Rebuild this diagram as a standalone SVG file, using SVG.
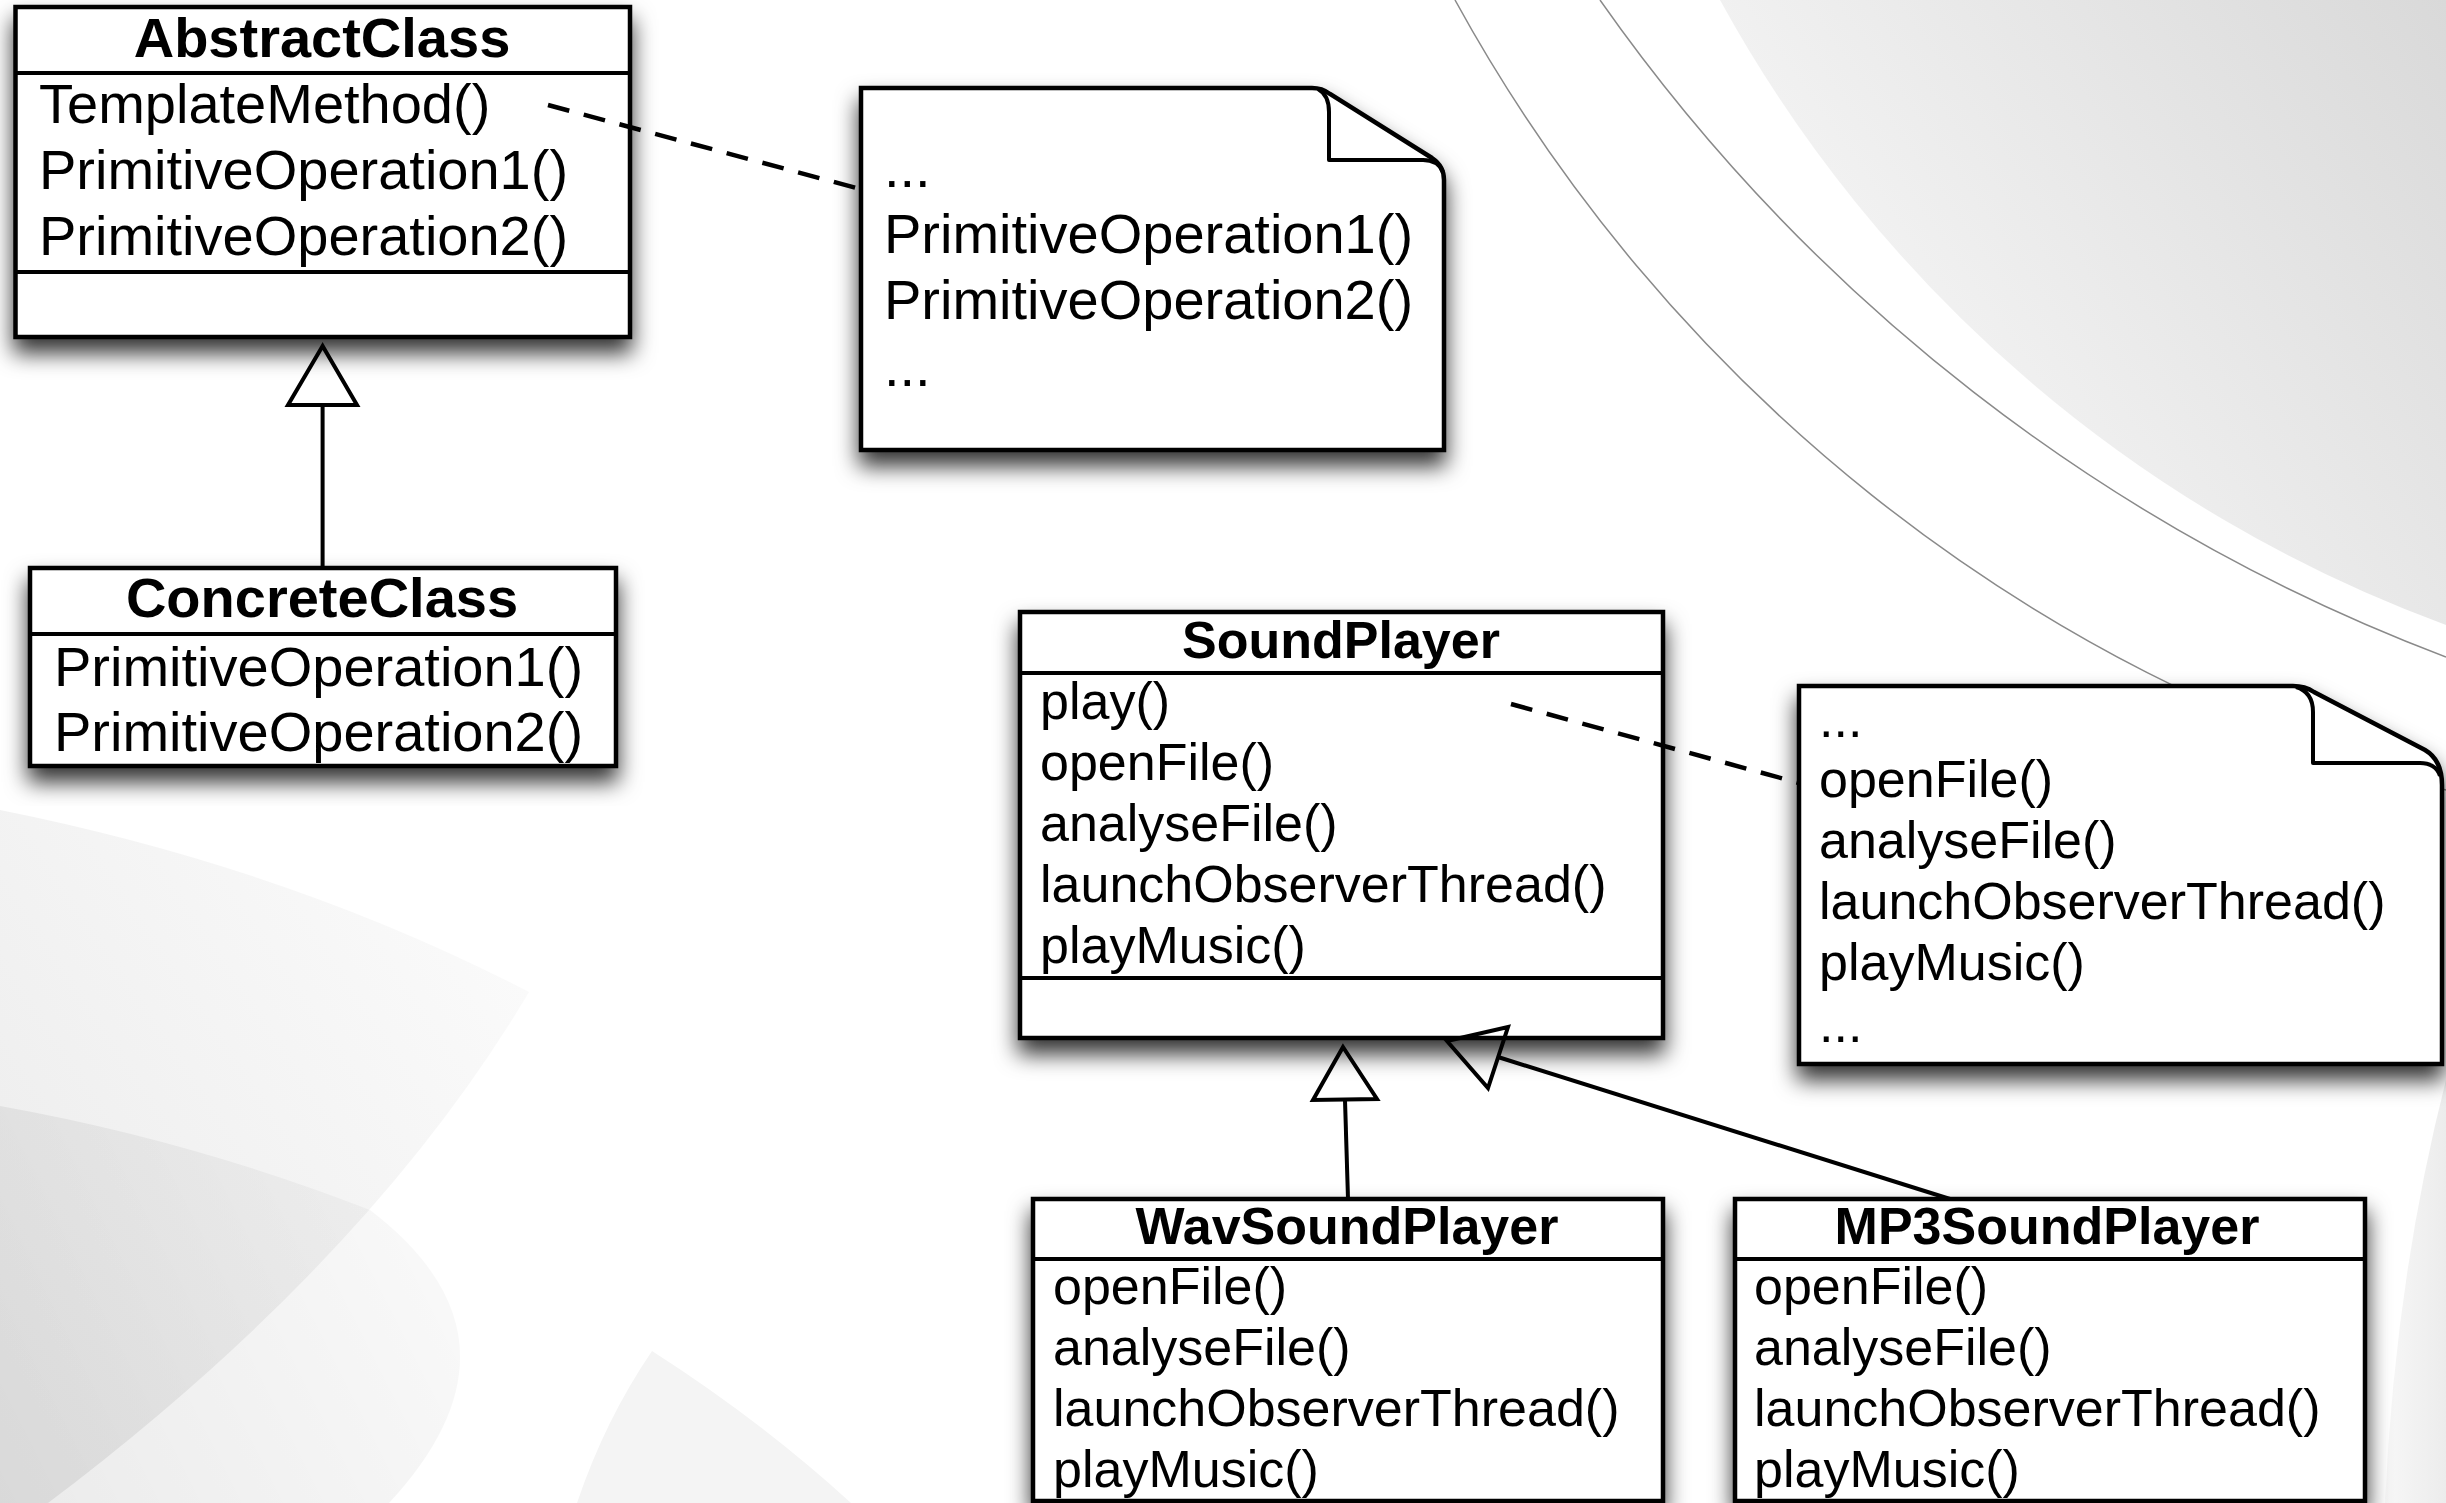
<svg xmlns="http://www.w3.org/2000/svg" width="2446" height="1503" viewBox="0 0 2446 1503">
  <defs>
    <filter id="shadow" x="-10%" y="-10%" width="120%" height="130%">
      <feDropShadow dx="0" dy="14" stdDeviation="11" flood-color="#000" flood-opacity="0.8"/>
    </filter>
    <linearGradient id="swoopTR" gradientUnits="userSpaceOnUse" x1="1850" y1="420" x2="2446" y2="0">
      <stop offset="0" stop-color="#f6f6f6"/>
      <stop offset="1" stop-color="#d9d9d9"/>
    </linearGradient>
    <linearGradient id="swoopBL" gradientUnits="userSpaceOnUse" x1="0" y1="1350" x2="529" y2="990">
      <stop offset="0" stop-color="#ececec"/>
      <stop offset="1" stop-color="#fafafa"/>
    </linearGradient>
    <linearGradient id="swoopBL2" gradientUnits="userSpaceOnUse" x1="0" y1="1503" x2="500" y2="1250">
      <stop offset="0" stop-color="#000" stop-opacity="0.08"/>
      <stop offset="1" stop-color="#000" stop-opacity="0.02"/>
    </linearGradient>
    <linearGradient id="swoopBR" gradientUnits="userSpaceOnUse" x1="2446" y1="1300" x2="2380" y2="1300">
      <stop offset="0" stop-color="#ececec"/>
      <stop offset="1" stop-color="#f8f8f8"/>
    </linearGradient>
    <style>
      .box { fill: #fff; stroke: #000; stroke-width: 4.5; stroke-linejoin: miter; }
      .sep { stroke: #000; stroke-width: 4; fill: none; }
      .fold { fill: none; stroke: #000; stroke-width: 4; stroke-linejoin: round; }
      .t56 { font-family: "Liberation Sans", Arial, Helvetica, sans-serif; font-size: 56px; fill: #000; }
      .t52 { font-family: "Liberation Sans", Arial, Helvetica, sans-serif; font-size: 52px; fill: #000; }
      .title { font-weight: bold; text-anchor: middle; }
      .link { stroke: #000; stroke-width: 4; fill: none; }
      .dash { stroke: #000; stroke-width: 4.5; fill: none; stroke-dasharray: 22 15; }
      .head { stroke: #000; stroke-width: 4; fill: none; stroke-linejoin: miter; }
      .arc { stroke: #8a8a8a; stroke-width: 1.5; fill: none; }
    </style>
  </defs>

  <!-- backdrop -->
  <rect x="0" y="0" width="2446" height="1503" fill="#fff"/>
  <g id="backdrop">
    <path d="M1720,0 A1364,1364 0 0 0 2446,625 L2446,0 Z" fill="url(#swoopTR)"/>
    <path class="arc" d="M1600,0 A1821,1821 0 0 0 2446,657"/>
    <path class="arc" d="M1455,0 A1640,1640 0 0 0 2446,790"/>
    <path d="M0,810 Q290,868 529,992 Q370,1260 48,1503 L0,1503 Z" fill="url(#swoopBL)"/>
    <path d="M0,1106 Q190,1140 370,1210 Q540,1340 389,1503 L0,1503 Z" fill="url(#swoopBL2)"/>
    <path d="M652,1351 Q760,1420 851,1503 L577,1503 Q605,1420 652,1351 Z" fill="#f4f4f4"/>
    <path d="M2446,1080 Q2395,1280 2385,1503 L2446,1503 Z" fill="url(#swoopBR)"/>
  </g>

  <!-- class: AbstractClass -->
  <g id="abstract-class">
    <rect class="box" x="15.5" y="7" width="614.5" height="330" filter="url(#shadow)"/>
    <line class="sep" x1="15.5" y1="73" x2="630" y2="73"/>
    <line class="sep" x1="15.5" y1="272" x2="630" y2="272"/>
    <text class="t56 title" x="322" y="57">AbstractClass</text>
    <text class="t56" x="39" y="123">TemplateMethod()</text>
    <text class="t56" x="39" y="189">PrimitiveOperation1()</text>
    <text class="t56" x="39" y="255">PrimitiveOperation2()</text>
  </g>

  <!-- class: ConcreteClass -->
  <g id="concrete-class">
    <rect class="box" x="30" y="568" width="586" height="198" filter="url(#shadow)"/>
    <line class="sep" x1="30" y1="634" x2="616" y2="634"/>
    <text class="t56 title" x="322" y="617">ConcreteClass</text>
    <text class="t56" x="54" y="686">PrimitiveOperation1()</text>
    <text class="t56" x="54" y="751">PrimitiveOperation2()</text>
  </g>

  <!-- note attached to TemplateMethod() -->
  <g id="template-note">
    <path class="box" d="M861,88 H1312 Q1322,88 1330,94 L1432,158 Q1444,166 1444,180 V450 H861 Z" filter="url(#shadow)"/>
    <path class="fold" d="M1318,89 Q1329,95 1329,112 V160 H1423 Q1438,160 1443,172"/>
    <text class="t56" x="884" y="187">...</text>
    <text class="t56" x="884" y="253">PrimitiveOperation1()</text>
    <text class="t56" x="884" y="319">PrimitiveOperation2()</text>
    <text class="t56" x="884" y="386">...</text>
  </g>

  <!-- class: SoundPlayer -->
  <g id="sound-player">
    <rect class="box" x="1020" y="612" width="643" height="426" filter="url(#shadow)"/>
    <line class="sep" x1="1020" y1="673" x2="1663" y2="673"/>
    <line class="sep" x1="1020" y1="978" x2="1663" y2="978"/>
    <text class="t52 title" x="1341" y="658">SoundPlayer</text>
    <text class="t52" x="1040" y="719">play()</text>
    <text class="t52" x="1040" y="780">openFile()</text>
    <text class="t52" x="1040" y="841">analyseFile()</text>
    <text class="t52" x="1040" y="902">launchObserverThread()</text>
    <text class="t52" x="1040" y="963">playMusic()</text>
  </g>

  <!-- note attached to play() -->
  <g id="play-note">
    <path class="box" d="M1799,686 H2293 Q2305,686 2314,692 L2425,750 Q2442,760 2442,785 V1064 H1799 Z" filter="url(#shadow)"/>
    <path class="fold" d="M2296,687 Q2313,692 2313,712 V763 H2420 Q2436,763 2440,776"/>
    <text class="t52" x="1819" y="737">...</text>
    <text class="t52" x="1819" y="797">openFile()</text>
    <text class="t52" x="1819" y="858">analyseFile()</text>
    <text class="t52" x="1819" y="919">launchObserverThread()</text>
    <text class="t52" x="1819" y="980">playMusic()</text>
    <text class="t52" x="1819" y="1042">...</text>
  </g>

  <!-- class: WavSoundPlayer -->
  <g id="wav-sound-player">
    <rect class="box" x="1033" y="1199" width="630" height="302" filter="url(#shadow)"/>
    <line class="sep" x1="1033" y1="1259" x2="1663" y2="1259"/>
    <text class="t52 title" x="1347" y="1244">WavSoundPlayer</text>
    <text class="t52" x="1053" y="1304">openFile()</text>
    <text class="t52" x="1053" y="1365">analyseFile()</text>
    <text class="t52" x="1053" y="1426">launchObserverThread()</text>
    <text class="t52" x="1053" y="1487">playMusic()</text>
  </g>

  <!-- class: MP3SoundPlayer -->
  <g id="mp3-sound-player">
    <rect class="box" x="1735" y="1199" width="630" height="302" filter="url(#shadow)"/>
    <line class="sep" x1="1735" y1="1259" x2="2365" y2="1259"/>
    <text class="t52 title" x="2047" y="1244">MP3SoundPlayer</text>
    <text class="t52" x="1754" y="1304">openFile()</text>
    <text class="t52" x="1754" y="1365">analyseFile()</text>
    <text class="t52" x="1754" y="1426">launchObserverThread()</text>
    <text class="t52" x="1754" y="1487">playMusic()</text>
  </g>

  <!-- connectors: note anchors and generalizations -->
  <g id="connectors">
    <line class="dash" x1="548" y1="105" x2="860" y2="189"/>
    <line class="dash" x1="1511" y1="704" x2="1799" y2="783"/>

    <line class="link" x1="322.6" y1="405" x2="322.6" y2="568"/>
    <polygon class="head" points="322.6,346 288,405 357,405" fill="#fff"/>

    <line class="link" x1="1345" y1="1100" x2="1348" y2="1199"/>
    <polygon class="head" points="1343,1047 1313,1100 1377,1099"/>

    <line class="link" x1="1498" y1="1057" x2="1950" y2="1199"/>
    <polygon class="head" points="1447,1041 1508,1027 1488,1088"/>
  </g>
</svg>
